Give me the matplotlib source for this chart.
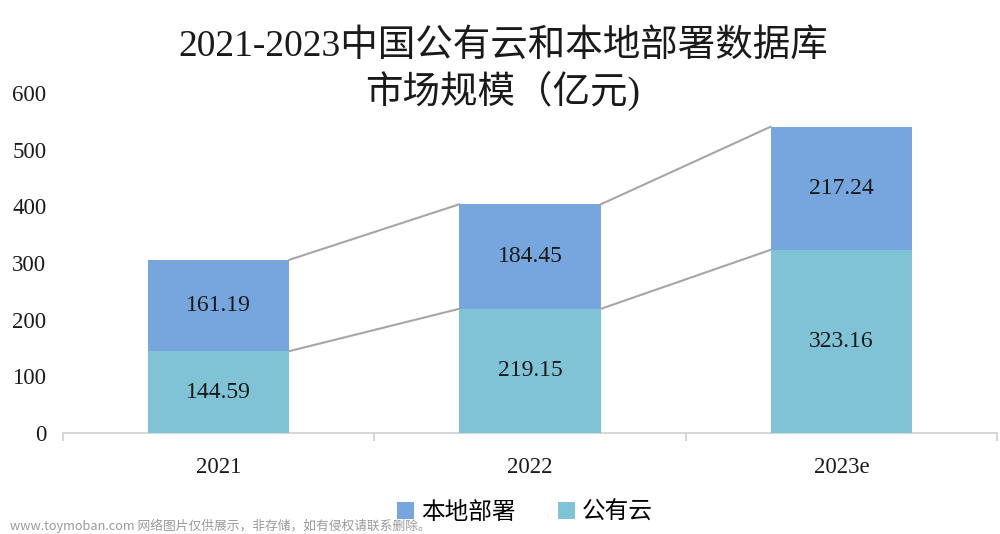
import matplotlib
matplotlib.use("Agg")
import matplotlib.pyplot as plt
import numpy as np
from matplotlib.patches import Patch

categories = ["2021", "2022", "2023e"]
public_cloud = [144.59, 219.15, 323.16]
on_premise = [161.19, 184.45, 217.24]
yticks = [0, 100, 200, 300, 400, 500, 600]
title = "2021-2023中国公有云和本地部署数据库\n市场规模（亿元)"
series_names = ["本地部署", "公有云"]
watermark = "www.toymoban.com 网络图片仅供展示，非存储，如有侵权请联系删除。"

FAM = ["Liberation Serif", "Noto Sans CJK SC", "DejaVu Sans"]
plt.rcParams['font.family'] = FAM

c_top = "#76a6dd"
c_bot = "#80c3d6"

fig = plt.figure(figsize=(10, 5.34), dpi=100)
ax = fig.add_axes([0.063, 0.1891, 0.934, 0.6367])

x = np.arange(len(categories))
w = 0.455
ax.bar(x, public_cloud, width=w, color=c_bot, zorder=3)
ax.bar(x, on_premise, width=w, bottom=public_cloud, color=c_top, zorder=3)

tot = np.array(public_cloud) + np.array(on_premise)
for i in range(len(categories) - 1):
    ax.plot([x[i] + w / 2, x[i + 1] - w / 2], [public_cloud[i], public_cloud[i + 1]],
            color="#a6a6a6", lw=1.5, zorder=2)
    ax.plot([x[i] + w / 2, x[i + 1] - w / 2], [tot[i], tot[i + 1]],
            color="#a6a6a6", lw=1.5, zorder=2)

for i in range(len(categories)):
    ax.text(x[i], public_cloud[i] / 2, f"{public_cloud[i]:.2f}", ha="center", va="center",
            fontsize=17, color="#1a1a1a", zorder=4)
    ax.text(x[i], public_cloud[i] + on_premise[i] / 2, f"{on_premise[i]:.2f}", ha="center",
            va="center", fontsize=17, color="#1a1a1a", zorder=4)

ax.set_xlim(-0.5, len(categories) - 0.5)
ax.set_ylim(0, 600)
ax.set_yticks(yticks)
ax.set_yticklabels([str(v) for v in yticks], fontsize=16.5, color="#1a1a1a")
ax.set_xticks(x)
ax.set_xticklabels(categories, fontsize=16.5, color="#1a1a1a")
ax.set_xticks(np.arange(-0.5, len(categories), 1.0), minor=True)
ax.tick_params(axis="x", which="major", length=0, pad=17)
ax.tick_params(axis="x", which="minor", length=6, color="#d0d0d0", width=1.2)
ax.tick_params(axis="y", length=0, pad=12)
for s in ["top", "right", "left"]:
    ax.spines[s].set_visible(False)
ax.spines["bottom"].set_color("#d0d0d0")
ax.spines["bottom"].set_linewidth(1.2)

fig.text(0.503, 0.945, title, ha="center", va="top", fontsize=27, color="#1a1a1a",
         linespacing=1.2)

handles = [Patch(facecolor=c_top), Patch(facecolor=c_bot)]
fig.legend(handles, series_names, loc="center", bbox_to_anchor=(0.525, 0.04), ncol=2,
           frameon=False, fontsize=17, handlelength=0.7, handleheight=0.7,
           handletextpad=0.3, columnspacing=1.8)

fig.text(0.01, 0.016, watermark, ha="left", va="center", fontsize=9.2, color="#9a9a9a",
         family=["Noto Sans CJK SC", "DejaVu Sans"])

fig.savefig("out.png", dpi=100)
